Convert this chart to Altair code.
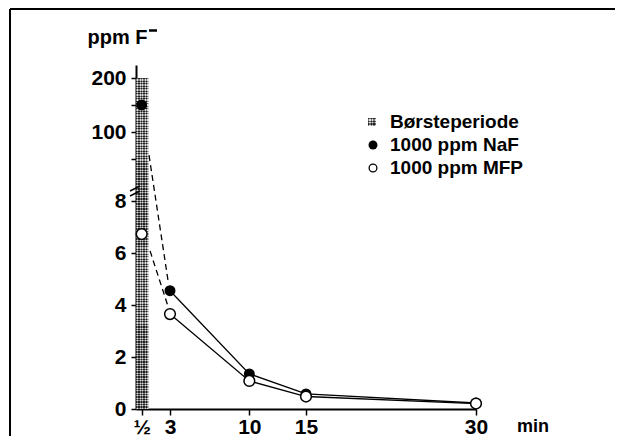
import altair as alt
import pandas as pd

# ---- data ----
times = [0.5, 3, 10, 15, 30]
naf = [150, 4.55, 1.35, 0.58, 0.23]
mfp = [6.73, 3.65, 1.08, 0.48, 0.21]
# dashed connectors between brushing period and 3 min
naf_dash_x = [1.15, 2.82]
naf_dash_y = [57, 4.96]
mfp_dash_x = [1.24, 2.82]
mfp_dash_y = [6.08, 3.96]
# brushing period bar
brush_x = [0, 1.1]
brush_top = 200
x_ticks = [0.5, 3, 10, 15, 30]
y_ticks = [0, 2, 4, 6, 8, 50, 100, 150, 200]
legend_labels = ["Børsteperiode", "1000 ppm NaF", "1000 ppm MFP"]

FONT = "Liberation Sans"
W, H = 340, 344

xs = alt.Scale(domain=[0, 30], nice=False, zero=False)
ys = alt.Scale(domain=[0, 8.5, 50, 200, 225], range=[344, 123, 94, 13, 0], nice=False, zero=False)

x_axis = alt.Axis(values=x_ticks, labelExpr="datum.value == 0.5 ? '½' : datum.label",
                  tickSize=6, labelPadding=1, title=None, labelOverlap=False, labelFlush=False,
                  labelBound=False, grid=False)
y_axis = alt.Axis(values=y_ticks,
                  labelExpr="(datum.value == 50 || datum.value == 150) ? '' : datum.label",
                  tickSize=5, labelPadding=5, title="ppm F", titleAngle=0, titleAlign="left",
                  titleX=-49, titleY=-22, titleFontSize=20, titleFontWeight="bold",
                  titleBaseline="alphabetic", titleFont=FONT, titleColor="black",
                  labelOverlap=False, labelFlush=False, grid=False)


def X(f):
    return alt.X(f, scale=xs, axis=x_axis)


def Y(f):
    return alt.Y(f, scale=ys, axis=y_axis)


def stripes(n, c1, c2, vertical):
    """Sharp-edged striped gradient used as a hatch texture."""
    stops = []
    for i in range(n):
        a = i / n
        m = (i + 0.5) / n
        b = (i + 1) / n
        stops += [alt.GradientStop(offset=a, color=c1), alt.GradientStop(offset=m, color=c1),
                  alt.GradientStop(offset=m, color=c2), alt.GradientStop(offset=b, color=c2)]
    if vertical:
        return alt.LinearGradient(gradient="linear", stops=stops, x1=0, x2=0, y1=0, y2=1)
    return alt.LinearGradient(gradient="linear", stops=stops, x1=0, x2=1, y1=0, y2=0)


bar_df = pd.DataFrame({"x0": [brush_x[0]], "x1": [brush_x[1]], "y0": [0], "y1": [brush_top]})
bar_a = alt.Chart(bar_df).mark_rect(
    fill=stripes(5, "#3c3c3c", "#d0d0d0", False)).encode(
    x=X("x0:Q"), x2="x1:Q", y=Y("y0:Q"), y2="y1:Q")
bar_b = alt.Chart(bar_df).mark_rect(
    fill=stripes(132, "rgba(0,0,0,0.45)", "rgba(255,255,255,0.35)", True)).encode(
    x=X("x0:Q"), x2="x1:Q", y=Y("y0:Q"), y2="y1:Q")

naf_df = pd.DataFrame({"t": times, "v": naf})
mfp_df = pd.DataFrame({"t": times, "v": mfp})

naf_line = alt.Chart(naf_df.iloc[1:]).mark_line(color="black", strokeWidth=1.3).encode(
    x=X("t:Q"), y=Y("v:Q"))
mfp_line = alt.Chart(mfp_df.iloc[1:]).mark_line(color="black", strokeWidth=1.3).encode(
    x=X("t:Q"), y=Y("v:Q"))

naf_dash = alt.Chart(pd.DataFrame({"t": naf_dash_x, "v": naf_dash_y})).mark_line(
    color="black", strokeWidth=1.3, strokeDash=[6, 4]).encode(x=X("t:Q"), y=Y("v:Q"))
mfp_dash = alt.Chart(pd.DataFrame({"t": mfp_dash_x, "v": mfp_dash_y})).mark_line(
    color="black", strokeWidth=1.3, strokeDash=[6, 4]).encode(x=X("t:Q"), y=Y("v:Q"))

naf_pts = alt.Chart(naf_df).mark_point(shape="circle", filled=True, fill="black",
                                       color="black", size=120, opacity=1).encode(
    x=X("t:Q"), y=Y("v:Q"))
mfp_pts = alt.Chart(mfp_df).mark_point(shape="circle", filled=True, fill="white",
                                       stroke="black", strokeWidth=1.5, size=115,
                                       opacity=1).encode(x=X("t:Q"), y=Y("v:Q"))

# legend
leg_y = [57, 80, 103]
leg_txt = [
    alt.Chart(pd.DataFrame({"l": [lab]})).mark_text(
        font=FONT, fontSize=19, fontWeight="bold", align="left", baseline="middle",
        color="black").encode(text="l:N", x=alt.value(254), y=alt.value(yy))
    for lab, yy in zip(legend_labels, leg_y)
]
leg_sq_df = pd.DataFrame({"l": [legend_labels[0]]})
leg_sq = alt.Chart(leg_sq_df).mark_square(
    size=64, fill=stripes(3, "#3c3c3c", "#c8c8c8", False), opacity=1).encode(
    x=alt.value(236), y=alt.value(leg_y[0]))
leg_sq2 = alt.Chart(leg_sq_df).mark_square(
    size=64, fill=stripes(3, "rgba(0,0,0,0.45)", "rgba(255,255,255,0.35)", True),
    opacity=1).encode(x=alt.value(236), y=alt.value(leg_y[0]))
leg_c1 = alt.Chart(pd.DataFrame({"l": [legend_labels[1]]})).mark_circle(
    size=80, color="black", opacity=1).encode(x=alt.value(237), y=alt.value(leg_y[1]))
leg_c2 = alt.Chart(pd.DataFrame({"l": [legend_labels[2]]})).mark_point(
    shape="circle", size=60, fill="white", filled=True, stroke="black", strokeWidth=1.3,
    opacity=1).encode(x=alt.value(237), y=alt.value(leg_y[2]))

# superscript minus of "ppm F-"
minus = alt.Chart(pd.DataFrame({"a": [0]})).mark_rule(color="black", strokeWidth=2.5).encode(
    x=alt.value(13), x2=alt.value(21), y=alt.value(-34.5))

# "min" axis label
min_lbl = alt.Chart(pd.DataFrame({"l": ["min"]})).mark_text(
    font=FONT, fontSize=18, fontWeight="bold", align="left", baseline="alphabetic",
    color="black").encode(text="l:N", x=alt.value(381), y=alt.value(367))

# axis break marks
brk1 = alt.Chart(pd.DataFrame({"a": [0]})).mark_rule(color="black", strokeWidth=1.4).encode(
    x=alt.value(-6), x2=alt.value(4), y=alt.value(126), y2=alt.value(121))
brk2 = alt.Chart(pd.DataFrame({"a": [0]})).mark_rule(color="black", strokeWidth=1.4).encode(
    x=alt.value(-6), x2=alt.value(4), y=alt.value(131), y2=alt.value(126))

# frame around the figure
frame_top = alt.Chart(pd.DataFrame({"a": [0]})).mark_rule(color="black", strokeWidth=2).encode(
    x=alt.value(-126), x2=alt.value(520), y=alt.value(-56))
frame_left = alt.Chart(pd.DataFrame({"a": [0]})).mark_rule(color="black", strokeWidth=2).encode(
    x=alt.value(-126), y=alt.value(-56), y2=alt.value(400))

chart = alt.layer(
    bar_a, bar_b, naf_dash, mfp_dash, naf_line, mfp_line, naf_pts, mfp_pts,
    leg_sq, leg_sq2, leg_c1, leg_c2, *leg_txt, minus, min_lbl, brk1, brk2, frame_top, frame_left
).properties(
    width=W, height=H,
    autosize=alt.AutoSizeParams(type="none"),
    padding={"left": 128, "top": 57, "right": 139, "bottom": 27},
).configure_view(stroke=None).configure_axis(
    domainColor="black", domainWidth=2, tickColor="black", tickWidth=1.5,
    labelFont=FONT, labelFontWeight="bold", labelFontSize=21, labelColor="black", grid=False
)

chart.save("out.html", embed_options={"renderer": "svg", "actions": False})
